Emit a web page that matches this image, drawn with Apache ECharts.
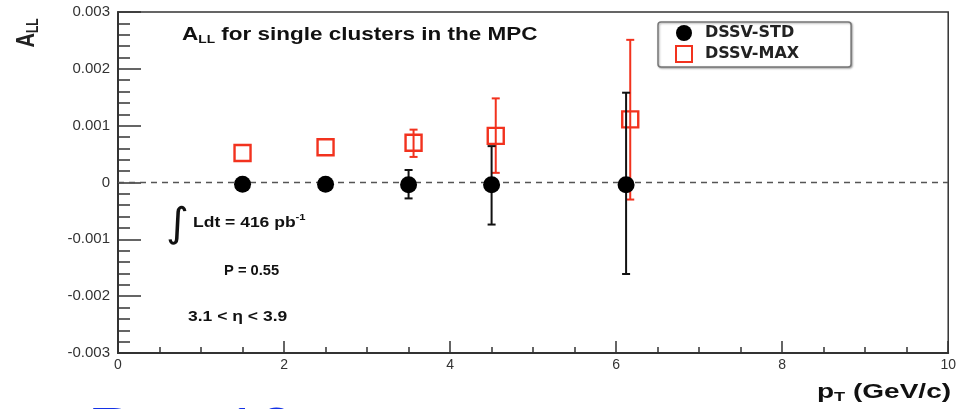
<!DOCTYPE html>
<html>
<head>
<meta charset="utf-8">
<title>A_LL single clusters MPC</title>
<script src="https://cdn.jsdelivr.net/npm/echarts/dist/echarts.min.js"></script>
<style>
  html, body { margin: 0; padding: 0; background: #fff; }
  #chart { width: 959px; height: 409px; }
</style>
</head>
<body>
<div id="chart"></div>
<script>
// data
var stdPt = [1.5, 2.5, 3.5, 4.5, 6.12];
var stdA = [-0.00003, -0.00003, -0.00004, -0.00004, -0.00004];
var stdLo = [null, null, -0.00028, -0.00074, -0.00161];
var stdHi = [null, null, 0.00022, 0.00064, 0.00158];

var maxPt = [1.5, 2.5, 3.56, 4.55, 6.17];
var maxA = [0.00052, 0.00062, 0.0007, 0.00082, 0.00111];
var maxLo = [null, null, 0.00045, 0.00017, -0.0003];
var maxHi = [null, null, 0.00093, 0.00148, 0.00251];

var xTicks = [0, 2, 4, 6, 8, 10];
var yTicks = [-0.003, -0.002, -0.001, 0, 0.001, 0.002, 0.003];

var FONT = '"Liberation Sans", Arial, sans-serif';
var WIDE = '"DejaVu Sans", sans-serif';
var RED = '#f2321e';

function pts(xs, ys) {
    return xs.map(function (x, i) { return [x, ys[i]]; });
}
function errs(xs, lo, hi) {
    var out = [];
    xs.forEach(function (x, i) {
        if (lo[i] !== null) out.push([x, lo[i], hi[i]]);
    });
    return out;
}
function errBar(color) {
    return function (params, api) {
        var a = api.coord([api.value(0), api.value(1)]);
        var b = api.coord([api.value(0), api.value(2)]);
        var st = { stroke: color, lineWidth: 2 };
        return {
            type: 'group',
            children: [
                { type: 'line', shape: { x1: a[0], y1: a[1], x2: b[0], y2: b[1] }, style: st },
                { type: 'line', shape: { x1: a[0] - 4, y1: a[1], x2: a[0] + 4, y2: a[1] }, style: st },
                { type: 'line', shape: { x1: b[0] - 4, y1: b[1], x2: b[0] + 4, y2: b[1] }, style: st }
            ]
        };
    };
}

var chart = echarts.init(document.getElementById('chart'));
chart.setOption({
    animation: false,
    backgroundColor: '#fff',
    textStyle: { fontFamily: FONT },
    grid: {
        left: 118, right: 9, top: 12, bottom: 56,
        show: true, borderColor: '#333', borderWidth: 1.5, backgroundColor: 'transparent'
    },
    legend: {
        orient: 'vertical',
        left: 658, top: 22,
        padding: [3, 52, 4, 17],
        itemGap: 4,
        itemWidth: 16, itemHeight: 16,
        borderColor: '#777', borderWidth: 1.5, borderRadius: 3,
        shadowColor: 'rgba(0,0,0,0.3)', shadowBlur: 2, shadowOffsetX: 1, shadowOffsetY: 1,
        backgroundColor: '#fff',
        textStyle: { fontFamily: WIDE, fontWeight: 'bold', fontSize: 16, color: '#222', padding: [0, 0, 0, 8] },
        data: ['DSSV-STD', 'DSSV-MAX']
    },
    xAxis: {
        type: 'value', min: 0, max: 10, interval: 2,
        axisLine: { onZero: false, lineStyle: { color: '#333', width: 2 } },
        axisTick: { inside: true, length: 12, lineStyle: { color: '#333', width: 1.5 } },
        minorTick: { show: true, splitNumber: 4, length: 6, lineStyle: { color: '#333', width: 1.5 } },
        splitLine: { show: false },
        axisLabel: {
            margin: 5, fontSize: 14, color: '#333', fontFamily: FONT,
            formatter: function (v) { return xTicks.indexOf(v) >= 0 ? String(v) : ''; }
        }
    },
    yAxis: {
        type: 'value', min: -0.003, max: 0.003, interval: 0.001,
        axisLine: { onZero: false, lineStyle: { color: '#333', width: 2 } },
        axisTick: { inside: true, length: 23, lineStyle: { color: '#333', width: 1.5 } },
        minorTick: { show: true, splitNumber: 5, length: 12, lineStyle: { color: '#333', width: 1.5 } },
        splitLine: { show: false },
        axisLabel: {
            margin: 8, fontSize: 15, color: '#333', fontFamily: FONT,
            formatter: function (v) {
                var t = yTicks.filter(function (y) { return Math.abs(y - v) < 1e-9; })[0];
                if (t === undefined) return '';
                return Math.abs(t) < 1e-9 ? '0' : t.toFixed(3);
            }
        }
    },
    series: [
        {
            type: 'line', name: 'zero', silent: true, symbol: 'none', z: 1,
            data: [[0, 0], [10, 0]],
            lineStyle: { color: '#555', width: 1.5, type: [6, 5] }
        },
        {
            type: 'custom', name: 'max-err', z: 3,
            renderItem: errBar(RED),
            data: errs(maxPt, maxLo, maxHi)
        },
        {
            type: 'scatter', name: 'DSSV-MAX', z: 4,
            symbol: 'rect', symbolSize: 16,
            itemStyle: { color: 'rgba(255,255,255,0)', borderColor: RED, borderWidth: 2.4, opacity: 1 },
            data: pts(maxPt, maxA)
        },
        {
            type: 'custom', name: 'std-err', z: 5,
            renderItem: errBar('#111'),
            data: errs(stdPt, stdLo, stdHi)
        },
        {
            type: 'scatter', name: 'DSSV-STD', z: 6,
            symbol: 'circle', symbolSize: 17,
            itemStyle: { color: '#000', opacity: 1 },
            data: pts(stdPt, stdA)
        }
    ],
    graphic: [
        {
            type: 'text', x: 27, y: 33, rotation: Math.PI / 2, scaleY: 1.3,
            style: {
                text: '{a|A}{s|LL}', align: 'center', verticalAlign: 'middle',
                rich: {
                    a: { fontFamily: FONT, fontWeight: 'bold', fontSize: 20, fill: '#222' },
                    s: { fontFamily: FONT, fontWeight: 'bold', fontSize: 12, fill: '#222', padding: [11, 0, 0, 0] }
                }
            }
        },
        {
            type: 'text', x: 182, y: 35, scaleX: 1.25,
            style: {
                text: '{a|A}{s|LL}{a| for single clusters in the MPC}', verticalAlign: 'middle',
                rich: {
                    a: { fontFamily: FONT, fontWeight: 'bold', fontSize: 18, fill: '#111' },
                    s: { fontFamily: FONT, fontWeight: 'bold', fontSize: 11, fill: '#111', padding: [10, 0, 0, 0] }
                }
            }
        },
        {
            type: 'text', x: 166, y: 226, scaleX: 1.1,
            style: { text: '\u222B', fontFamily: WIDE, fontSize: 40, fill: '#111', verticalAlign: 'middle' }
        },
        {
            type: 'text', x: 193, y: 223, scaleX: 1.25,
            style: {
                text: '{a|Ldt = 416 pb}{s|-1}', verticalAlign: 'middle',
                rich: {
                    a: { fontFamily: FONT, fontWeight: 'bold', fontSize: 14, fill: '#111' },
                    s: { fontFamily: FONT, fontWeight: 'bold', fontSize: 9, fill: '#111', padding: [0, 0, 10, 0] }
                }
            }
        },
        {
            type: 'text', x: 224, y: 271, scaleX: 1.05,
            style: { text: 'P = 0.55', verticalAlign: 'middle', fontFamily: FONT, fontWeight: 'bold', fontSize: 14, fill: '#111' }
        },
        {
            type: 'text', x: 188, y: 317, scaleX: 1.25,
            style: { text: '3.1 < \u03B7 < 3.9', verticalAlign: 'middle', fontFamily: FONT, fontWeight: 'bold', fontSize: 14, fill: '#111' }
        },
        {
            type: 'text', x: 817, y: 392, scaleX: 1.4,
            style: {
                text: '{a|p}{s|T}{a| (GeV/c)}', verticalAlign: 'middle',
                rich: {
                    a: { fontFamily: FONT, fontWeight: 'bold', fontSize: 20, fill: '#111' },
                    s: { fontFamily: FONT, fontWeight: 'bold', fontSize: 13, fill: '#111', padding: [10, 0, 0, 0] }
                }
            }
        },
        {
            type: 'text', x: 88, y: 403,
            style: { text: 'Run 13', fontFamily: FONT, fontSize: 64, fill: '#1432e6', verticalAlign: 'top' }
        }
    ]
});
</script>
</body>
</html>
